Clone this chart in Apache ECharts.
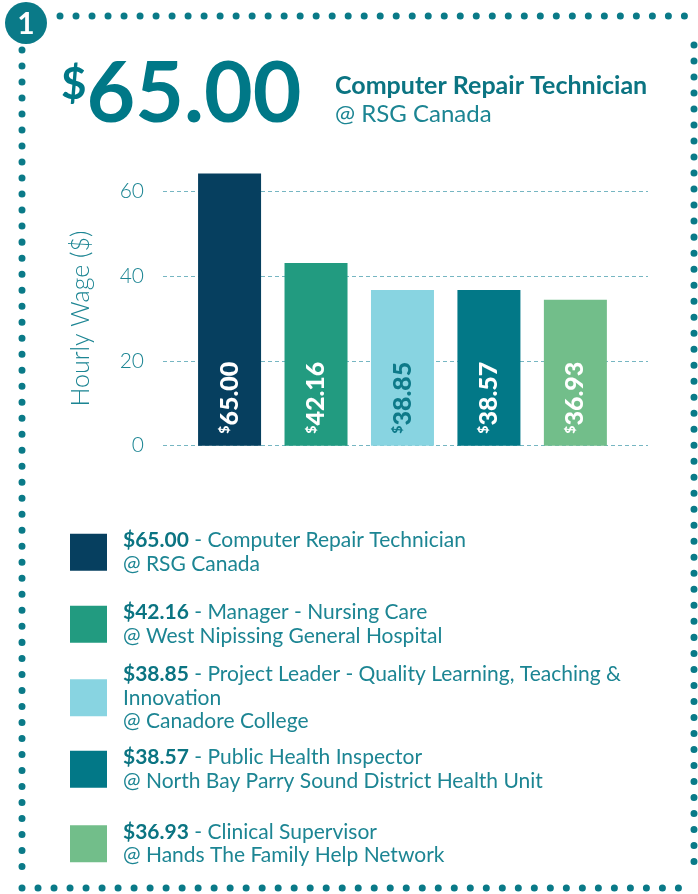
<!DOCTYPE html>
<html><head><meta charset="utf-8">
<script src="https://cdn.jsdelivr.net/npm/echarts@6/dist/echarts.min.js"></script>
<style>html,body{margin:0;padding:0;background:#fff}#c{width:698px;height:894px}</style>
</head><body><div id="c"></div>
<script>
// ---- data ----
const wages = ['65.00', '42.16', '38.85', '38.57', '36.93'];
const barHeights = [64.2, 43.1, 36.7, 36.7, 34.4]; // bar heights as drawn in the picture
const jobTitles = [
  'Computer Repair Technician',
  'Manager - Nursing Care',
  'Project Leader - Quality Learning, Teaching &\nInnovation',
  'Public Health Inspector',
  'Clinical Supervisor'
];
const employers = [
  'RSG Canada',
  'West Nipissing General Hospital',
  'Canadore College',
  'North Bay Parry Sound District Health Unit',
  'Hands The Family Help Network'
];
const yTicks = [0, 20, 40, 60];
const yAxisName = 'Hourly Wage ($)';
const badge = '1';

// ---- style ----
const colors = ['#063f5f', '#229b80', '#88d4e1', '#027887', '#72be8a'];
const labelColors = ['#ffffff', '#ffffff', '#0e7a89', '#ffffff', '#ffffff'];
const teal = '#0a7a88';
const textTeal = '#1c8593';
const FONT = 'Lato, "Open Sans", sans-serif';
const LH = 23.3;
const legendCenters = [553.5, 625.5, 699, 770.5, 845];

const series = wages.map((w, i) => ({
  name: 'job' + i,
  type: 'bar',
  barWidth: 63,
  barGap: '-100%',
  clip: false,
  itemStyle: { color: colors[i] },
  data: [[i, barHeights[i]]],
  label: {
    show: true,
    position: 'insideBottom',
    rotate: 90,
    align: 'left',
    verticalAlign: 'middle',
    distance: 12,
    formatter: () => '{s|$}{n|' + wages[i] + '}',
    rich: {
      s: { fontFamily: FONT, fontSize: 14, fontWeight: 900, color: labelColors[i], verticalAlign: 'top', lineHeight: 24 },
      n: { fontFamily: FONT, fontSize: 25, fontWeight: 900, color: labelColors[i], lineHeight: 24 }
    }
  }
}));

const legends = wages.map((w, i) => {
  const lines = (jobTitles[i].split('\n').length) + 1;
  return {
    orient: 'vertical',
    left: 70,
    top: legendCenters[i] - lines * LH / 2,
    padding: 0,
    itemWidth: 37,
    itemHeight: 37,
    icon: 'rect',
    selectedMode: false,
    data: ['job' + i],
    formatter: () => '{b|$' + wages[i] + '}{r| - ' + jobTitles[i] + '}\n{r|@ ' + employers[i] + '}',
    textStyle: {
      padding: [0, 0, 0, 11],
      rich: {
        b: { fontFamily: FONT, fontSize: 21, fontWeight: 'bold', color: '#0b7482', lineHeight: LH },
        r: { fontFamily: FONT, fontSize: 21, color: textTeal, lineHeight: LH }
      }
    }
  };
});

function dotted(points) {
  return {
    type: 'polyline',
    silent: true,
    shape: { points },
    style: { stroke: teal, lineWidth: 7, lineCap: 'round', lineDash: [0.01, 16], fill: null }
  };
}

const chart = echarts.init(document.getElementById('c'), null, { renderer: 'canvas' });
chart.setOption({
  backgroundColor: '#ffffff',
  animation: false,
  title: [
    {
      left: 56, top: 50,
      text: '{s|$}{n|' + wages[0] + '}',
      textStyle: {
        rich: {
          s: { fontFamily: FONT, fontSize: 44, fontWeight: 'bold', color: '#007887', verticalAlign: 'top', lineHeight: 80, padding: [8, 0, 0, 0] },
          n: { fontFamily: FONT, fontSize: 84, fontWeight: 'bold', color: '#007887', lineHeight: 80 }
        }
      }
    },
    {
      left: 330, top: 68,
      text: jobTitles[0],
      textStyle: { fontFamily: FONT, fontSize: 25, fontWeight: 'bold', color: '#0b7482' },
      subtext: '@ ' + employers[0],
      subtextStyle: { fontFamily: FONT, fontSize: 24, color: textTeal },
      itemGap: 4
    }
  ],
  legend: legends,
  grid: { left: 163, right: 50, top: 191.3, bottom: 448.3 },
  xAxis: {
    type: 'value', min: -0.77, max: 4.84,
    show: false
  },
  yAxis: {
    type: 'value', min: yTicks[0], max: yTicks[yTicks.length - 1], interval: 20,
    name: yAxisName,
    nameLocation: 'middle',
    nameGap: 70,
    nameRotate: 90,
    nameTextStyle: { fontFamily: FONT, fontSize: 25, fontWeight: 300, color: textTeal },
    axisLine: { show: false },
    axisTick: { show: false },
    axisLabel: { margin: 19, fontFamily: FONT, fontSize: 21, fontWeight: 300, color: textTeal },
    splitLine: { lineStyle: { color: '#76b6c2', type: [4, 3], width: 1 } }
  },
  series,
  graphic: [
    dotted([[60, 16], [698, 16]]),
    dotted([[22, 50], [22, 882]]),
    dotted([[22, 888], [694, 888]]),
    dotted([[694, 45], [694, 872]]),
    { type: 'circle', shape: { cx: 26, cy: 23, r: 21 }, style: { fill: teal } },
    { type: 'text', x: 26, y: 24, style: { text: badge, fill: '#fff', font: 'bold 30px ' + FONT, align: 'center', verticalAlign: 'middle' } }
  ]
});
</script></body></html>
